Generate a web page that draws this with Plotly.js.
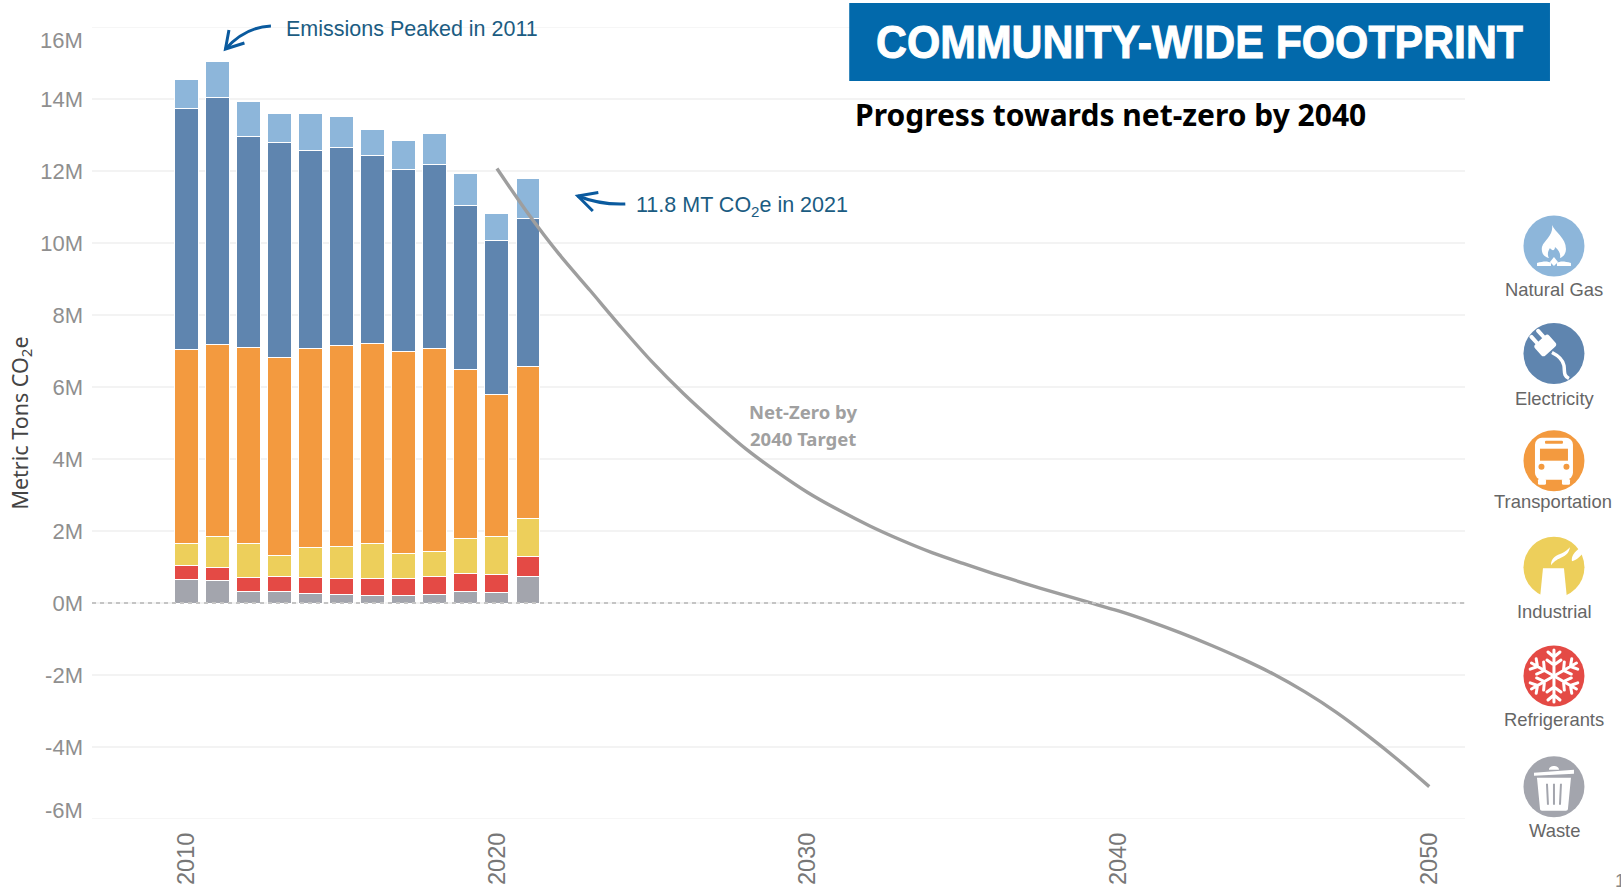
<!DOCTYPE html>
<html><head><meta charset="utf-8">
<script src="https://cdn.plot.ly/plotly-3.0.1.min.js"></script>
<style>html,body{margin:0;padding:0;background:#fff;overflow:hidden}</style>
</head><body><div id="chart" style="width:1621px;height:887px"></div>
<script>
const years=[2010,2011,2012,2013,2014,2015,2016,2017,2018,2019,2020,2021];
const waste=[.65,.62,.33,.33,.27,.23,.21,.21,.23,.33,.30,.74];
const refrigerants=[.38,.38,.37,.40,.43,.45,.47,.47,.50,.50,.50,.55];
const industrial=[.61,.84,.94,.60,.83,.90,.96,.70,.71,.96,1.04,1.05];
const transportation=[5.41,5.35,5.46,5.48,5.53,5.58,5.57,5.60,5.62,4.69,3.94,4.24];
const electricity=[6.68,6.86,5.87,5.99,5.52,5.49,5.21,5.06,5.12,4.56,4.30,4.11];
const naturalGas=[.80,.98,.95,.80,1.02,.86,.72,.80,.87,.90,.74,1.10];
const targetYears=[2020,2021,2022,2023,2024,2025,2026,2027,2028,2029,2030,2031,2032,2033,2034,2035,2036,2037,2038,2039,2040,2041,2042,2043,2044,2045,2046,2047,2048,2049,2050];
const targetValues=[12.07,10.82,9.69,8.68,7.66,6.69,5.82,5.03,4.29,3.65,3.07,2.58,2.14,1.75,1.40,1.10,.81,.54,.28,.03,-.22,-.51,-.83,-1.18,-1.56,-1.98,-2.47,-3.03,-3.67,-4.36,-5.10];
const yTickVals=[-4,-2,0,2,4,6,8,10,12,14];
const yTickText=['-4M','-2M','0M','2M','4M','6M','8M','10M','12M','14M'];
const xTickVals=[2010,2020,2030,2040,2050];
const colors={gas:'#8DB6DA',elec:'#5F85AF',trans:'#F39A3F',ind:'#EDCF5B',ref:'#E44A45',waste:'#A3A5AD'};

const W=1621,H=887;
const M={l:91.5,r:156,t:27,b:68};
const PW=W-M.l-M.r, PH=H-M.t-M.b;
const px=x=>(x-M.l)/PW, py=y=>1-(y-M.t)/PH;
const bar=(name,y,c)=>({type:'bar',name,x:years,y,marker:{color:c,line:{color:'#fff',width:1}},hoverinfo:'x+y+name'});
const traces=[
 bar('Waste',waste,colors.waste),
 bar('Refrigerants',refrigerants,colors.ref),
 bar('Industrial',industrial,colors.ind),
 bar('Transportation',transportation,colors.trans),
 bar('Electricity',electricity,colors.elec),
 bar('Natural Gas',naturalGas,colors.gas),
 {type:'scatter',mode:'lines',name:'Net-Zero by 2040 Target',x:targetYears,y:targetValues,line:{color:'#9E9E9E',width:3.4,shape:'spline',smoothing:.8}}
];
const arrow={color:'#0A5A9E',width:3};
const gridLine=v=>({type:'line',xref:'paper',yref:'y',x0:0,x1:1,y0:v,y1:v,layer:'below',line:{color:'#F3F3F3',width:1.5}});
const shapes=[
 gridLine(16),gridLine(-6),
 {type:'line',xref:'paper',yref:'y',x0:0,x1:1,y0:0,y1:0,layer:'above',line:{color:'#C4C4C4',width:2,dash:'4px,4px'}},
 {type:'rect',xref:'paper',yref:'paper',x0:px(849),x1:px(1550),y0:py(3),y1:py(81),fillcolor:'#0269AB',line:{width:0},layer:'above'},
 {type:'path',xref:'paper',yref:'paper',layer:'above',line:arrow,path:'M'+px(625)+','+py(204)+' Q'+px(600)+','+py(205)+' '+px(577.5)+','+py(196)},
 {type:'path',xref:'paper',yref:'paper',layer:'above',line:arrow,path:'M'+px(598)+','+py(192.5)+' L'+px(577.5)+','+py(196)+' L'+px(592.5)+','+py(211)},
 {type:'path',xref:'paper',yref:'paper',layer:'above',line:arrow,path:'M'+px(270.5)+','+py(26)+' Q'+px(245)+','+py(27)+' '+px(225)+','+py(49)},
 {type:'path',xref:'paper',yref:'paper',layer:'above',line:arrow,path:'M'+px(228.5)+','+py(30)+' L'+px(225)+','+py(49)+' L'+px(244)+','+py(43)}
];

const ann=(text,x,y,size,color,family,extra)=>Object.assign({xref:'paper',yref:'paper',x:px(x),y:py(y),text,showarrow:false,xanchor:'center',yanchor:'middle',font:{size,color,family}},extra||{});
const sans='Liberation Sans, Arial, sans-serif';
const blue='#1B5C82';
const annotations=[
 ann('<b>COMMUNITY-WIDE FOOTPRINT</b>',1199.5,42,46,'#fff',sans),
 ann('<b>Progress towards net-zero by 2040</b>',853,114,30,'#000','Noto Sans, sans-serif',{xanchor:'left'}),
 ann('Emissions Peaked in 2011',284,29,21.5,blue,sans,{xanchor:'left'}),
 ann('11.8 MT CO<sub>2</sub>e in 2021',634,206,21.5,blue,sans,{xanchor:'left'}),
 ann('<b>Net-Zero by</b>',803,411.5,18.5,'#A0A0A0','Noto Sans, sans-serif'),
 ann('<b>2040 Target</b>',803,438.5,18.5,'#A0A0A0','Noto Sans, sans-serif'),
 ann('16M',84,41,22,'#8F8F8F',sans,{xanchor:'right'}),
 ann('-6M',84,810,22,'#8F8F8F',sans,{xanchor:'right'}),
 ann('Metric Tons CO<sub>2</sub>e',20,423,21.5,'#444','Noto Sans, sans-serif',{textangle:-90}),
 ann('Natural Gas',1554,289,18.4,'#666',sans),
 ann('Electricity',1555,398,18.4,'#666',sans),
 ann('Transportation',1553,502,18.4,'#666',sans),
 ann('Industrial',1554.5,611,18.4,'#666',sans),
 ann('Refrigerants',1554,719,18.4,'#666',sans),
 ann('Waste',1555,830,18.4,'#666',sans),
 ann('1',1613,880,18.4,'#888',sans,{xanchor:'left'})
];

const wrap=(c,inner)=>'data:image/svg+xml;charset=utf-8,'+encodeURIComponent('<svg xmlns="http://www.w3.org/2000/svg" width="64" height="64" viewBox="0 0 64 64"><circle cx="32" cy="32" r="30.5" fill="'+c+'"/>'+inner+'</svg>');
const flake=(()=>{let a='';for(let i=0;i<6;i++){a+='<g transform="rotate('+i*60+' 32 32)"><path d="M32 32V6M32 13l-6 -5M32 13l6 -5M32 21l-7 -5M32 21l7 -5" stroke="#fff" stroke-width="3" fill="none" stroke-linecap="round"/></g>';}return a;})();
const iconDefs=[
 [246,wrap(colors.gas,'<path fill="#fff" d="M30 11C33 18 44 24 44 35C44 40 41 43 38 44C39 40 37 36 33 33C33 37 30 37 28 34C26 37 25 41 27 44C22 43 19 39 20 33C21 29 24 27 26 24C29 20 31 16 30 11Z"/><path fill="#fff" d="M15 49C22 47 26 47 29 49L29 52L15 52ZM49 49C42 47 38 47 35 49L35 52L49 52ZM32 43L36 48L32 52L28 48Z"/>')],
 [353.5,wrap(colors.elec,'<g transform="rotate(-42 24 24)"><rect x="14" y="16" width="19" height="15" rx="3" fill="#fff"/><rect x="17" y="6" width="4" height="11" rx="1.5" fill="#fff"/><rect x="26" y="6" width="4" height="11" rx="1.5" fill="#fff"/></g><path d="M30 31C36 34 41 38 42 44C43 50 41 54 47 57" stroke="#fff" stroke-width="3.5" fill="none"/>')],
 [460.7,wrap(colors.trans,'<rect x="13" y="9" width="38" height="42" rx="7" fill="#fff"/><rect x="18" y="20" width="28" height="12" fill="'+colors.trans+'"/><rect x="23" y="12" width="18" height="3" rx="1" fill="'+colors.trans+'"/><circle cx="19.5" cy="38" r="3" fill="'+colors.trans+'"/><circle cx="44.5" cy="38" r="3" fill="'+colors.trans+'"/><rect x="16" y="50" width="8" height="6" rx="1.5" fill="#fff"/><rect x="40" y="50" width="8" height="6" rx="1.5" fill="#fff"/>')],
 [567.3,wrap(colors.ind,'<path fill="#fff" d="M21 33H42L45 63H18Z"/><path fill="#fff" d="M29 30C29 22 35 20 40 18C44 16 46 14 48 12C47 18 44 20 40 22C36 24 33 25 29 30ZM50 26C49 21 52 17 59 12L63 14C60 20 56 24 50 26Z"/>')],
 [676,wrap(colors.ref,flake)],
 [786.7,wrap(colors.waste,'<path fill="#fff" d="M12 18L52 15V19L12 21ZM27 15C27 10 37 10 37 15Z"/><path fill="#fff" d="M15 23H49L46 54C46 55 45 56 44 56H20C19 56 18 55 18 54Z"/><path d="M25 29L26 50M32 29V50M39 29L38 50" stroke="'+colors.waste+'" stroke-width="2"/>')]
];
const images=iconDefs.map(d=>({source:d[1],xref:'paper',yref:'paper',x:px(1554),y:py(d[0]),sizex:64/PW,sizey:64/PH,xanchor:'center',yanchor:'middle',sizing:'stretch',layer:'above'}));

const layout={
 width:W,height:H,paper_bgcolor:'#fff',plot_bgcolor:'#fff',showlegend:false,barmode:'stack',bargap:.23,
 margin:{l:M.l,r:M.r,t:M.t,b:M.b,pad:0},
 xaxis:{range:[2006.97,2051.15],tickmode:'array',tickvals:xTickVals,ticktext:xTickVals.map(String),tickangle:-90,ticklen:0,ticklabelstandoff:8,showgrid:false,zeroline:false,showline:false,tickfont:{size:23.5,color:'#777',family:sans}},
 yaxis:{range:[-6,16],tickmode:'array',tickvals:yTickVals,ticktext:yTickText,ticklen:0,ticklabelstandoff:8,gridcolor:'#F3F3F3',gridwidth:1.5,zeroline:false,showline:false,tickfont:{size:22,color:'#8F8F8F',family:sans}},
 shapes,annotations,images
};
Plotly.newPlot('chart',traces,layout,{staticPlot:true,displayModeBar:false}).then(()=>{
 // squeeze the banner title to the width of the condensed face in the reference
 document.querySelectorAll('.annotation-text').forEach(t=>{
  if(t.textContent.indexOf('COMMUNITY')===0){
   t.style.stroke='#fff';t.style.strokeWidth='1px';
   t.setAttribute('textLength','647');t.setAttribute('lengthAdjust','spacingAndGlyphs');
   t.querySelectorAll('tspan').forEach(s=>{s.setAttribute('textLength','647');s.setAttribute('lengthAdjust','spacingAndGlyphs');});
  }
 });
});
</script></body></html>
